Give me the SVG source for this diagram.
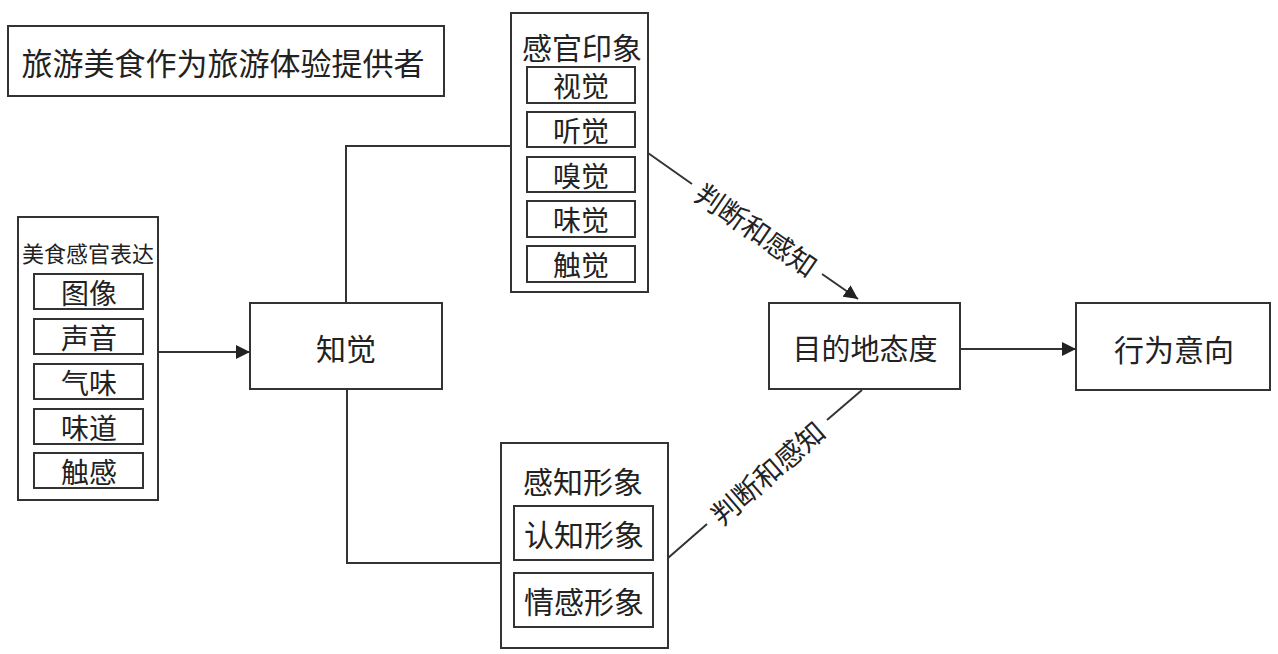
<svg xmlns="http://www.w3.org/2000/svg" width="1278" height="654" viewBox="0 0 1278 654">
<style>
.box{fill:#ffffff;stroke:#333333;stroke-width:2}
.t{font-family:"Noto Sans CJK SC","Noto Sans",sans-serif;fill:#222222;text-anchor:middle;dominant-baseline:central}
.ln{fill:none;stroke:#333333;stroke-width:2}
</style>
<defs>
<marker id="arr" markerUnits="userSpaceOnUse" markerWidth="14" markerHeight="14" refX="14" refY="7" orient="auto">
<path d="M0,0 L14,7 L0,14 z" fill="#222222"/>
</marker>
</defs>
<rect width="1278" height="654" fill="#ffffff"/>
<g id="connectors">
<line class="ln" x1="158" y1="352" x2="250" y2="352" marker-end="url(#arr)"/>
<polyline class="ln" points="511,146 346,146 346,303"/>
<polyline class="ln" points="347,389 347,563 501,563"/>
<line class="ln" x1="648" y1="153" x2="692" y2="184"/>
<line class="ln" x1="822" y1="274" x2="858" y2="299" marker-end="url(#arr)"/>
<text class="t" x="757" y="229" font-size="28" transform="rotate(34.6 757 229)">判断和感知</text>
<line class="ln" x1="668" y1="558" x2="707" y2="524"/>
<line class="ln" x1="827" y1="420" x2="862" y2="390"/>
<text class="t" x="767" y="472" font-size="28" transform="rotate(-40.9 767 472)">判断和感知</text>
<line class="ln" x1="960" y1="349" x2="1076" y2="349" marker-end="url(#arr)"/>
</g>
<g id="title">
<rect class="box" x="8" y="26" width="436" height="70"/>
<text class="t" x="223" y="61" font-size="31">旅游美食作为旅游体验提供者</text>
</g>
<g id="food-expression">
<rect class="box" x="18" y="217" width="140" height="283"/>
<text class="t" x="88" y="252" font-size="22">美食感官表达</text>
<rect class="box" x="34" y="274" width="109" height="35"/>
<text class="t" x="89" y="291.5" font-size="28">图像</text>
<rect class="box" x="34" y="319" width="109" height="35"/>
<text class="t" x="89" y="336.5" font-size="28">声音</text>
<rect class="box" x="34" y="364" width="109" height="35"/>
<text class="t" x="89" y="381.5" font-size="28">气味</text>
<rect class="box" x="34" y="409" width="109" height="35"/>
<text class="t" x="89" y="426.5" font-size="28">味道</text>
<rect class="box" x="34" y="453" width="109" height="35"/>
<text class="t" x="89" y="470.5" font-size="28">触感</text>
</g>
<g id="perception">
<rect class="box" x="250" y="303" width="192" height="86"/>
<text class="t" x="346" y="347" font-size="30">知觉</text>
</g>
<g id="sensory-impression">
<rect class="box" x="511" y="13" width="137" height="279"/>
<text class="t" x="582" y="46" font-size="30">感官印象</text>
<rect class="box" x="527" y="67" width="108" height="36"/>
<text class="t" x="581" y="85" font-size="28">视觉</text>
<rect class="box" x="527" y="112" width="108" height="35"/>
<text class="t" x="581" y="129.5" font-size="28">听觉</text>
<rect class="box" x="527" y="157" width="108" height="35"/>
<text class="t" x="581" y="174.5" font-size="28">嗅觉</text>
<rect class="box" x="527" y="201" width="108" height="36"/>
<text class="t" x="581" y="219" font-size="28">味觉</text>
<rect class="box" x="527" y="246" width="108" height="36"/>
<text class="t" x="581" y="264" font-size="28">触觉</text>
</g>
<g id="perceived-image">
<rect class="box" x="501" y="443" width="167" height="205"/>
<text class="t" x="583" y="480" font-size="30">感知形象</text>
<rect class="box" x="514" y="506" width="139" height="54"/>
<text class="t" x="584" y="533" font-size="30">认知形象</text>
<rect class="box" x="514" y="573" width="139" height="54"/>
<text class="t" x="584" y="600" font-size="30">情感形象</text>
</g>
<g id="destination-attitude">
<rect class="box" x="769" y="303" width="191" height="86"/>
<text class="t" x="865" y="347" font-size="29">目的地态度</text>
</g>
<g id="behavior-intention">
<rect class="box" x="1076" y="303" width="194" height="87"/>
<text class="t" x="1174" y="348" font-size="30">行为意向</text>
</g>
</svg>
